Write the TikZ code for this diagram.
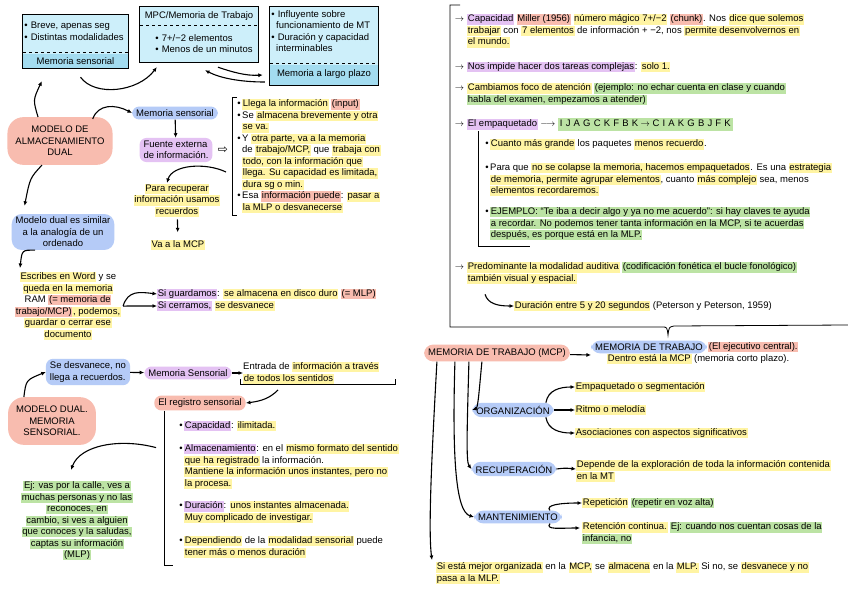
\documentclass[tikz,border=0pt]{standalone}
\usepackage{fontspec}
\setmainfont{Liberation Sans}
\newfontfamily\symfont{DejaVu Sans}
\usetikzlibrary{arrows.meta,calc}
\definecolor{boxc}{HTML}{CDEFFA}
\definecolor{bandc}{HTML}{A3DCF0}
\definecolor{hly}{HTML}{FFF4A3}
\definecolor{hlk}{HTML}{F8BCAF}
\definecolor{hlb}{HTML}{B5CBF7}
\definecolor{hlp}{HTML}{E4C2F3}
\definecolor{hlg}{HTML}{BCE3A4}
\newcommand\mapfont{\fontsize{9.5}{11.5}\selectfont\setlength{\lineskiplimit}{-10pt}}
\newcommand\mkc[2]{{\setlength{\fboxsep}{0.7pt}\colorbox{#1}{\vphantom{Ay}#2}}}
\newcommand\mkY[1]{\mkc{hly}{#1}}
\newcommand\mkK[1]{\mkc{hlk}{#1}}
\newcommand\mkP[1]{\mkc{hlp}{#1}}
\newcommand\mkG[1]{\mkc{hlg}{#1}}
\newcommand\bulx{\llap{\textbullet\,}}
\newcommand\itemarr{\llap{$\rightarrow$\,\,}}
\tikzset{
 txt/.style={align=left,anchor=north west,inner sep=0pt},
 blob/.style={rounded corners=7pt,inner xsep=4pt,inner ysep=3pt},
 cloudk/.style={fill=hlk,rounded corners=16pt,align=center,inner xsep=8pt,inner ysep=9pt},
 arr/.style={-{Latex[length=4.5pt,width=4pt]},line width=1.1pt},
 memline/.style={line width=1.3pt}
}
\begin{document}
\begin{tikzpicture}[x=1pt,y=-1pt,font=\mapfont]
 \fill[white] (0,0) rectangle (848,599);
 \useasboundingbox (0,0) rectangle (848,599);
 % three stores
 \node[fill=boxc,minimum width=105,minimum height=53,inner sep=0] (bsens) at (75.5,41.5) {};
 \fill[bandc] (23,54) rectangle (128,68);\draw[dashed,thick] (23,52)--(128,52);
 \draw[memline] (bsens.north west) rectangle (bsens.south east);
 \node[txt] (sensl) at (29,22) {\bulx\,Breve, apenas seg\\\bulx\,Distintas modalidades};
 \node (senst) at (75.5,61) {Memoria sensorial};
 \node[fill=boxc,minimum width=118,minimum height=55,inner sep=0] (bmcp) at (199,34.5) {};
 \draw[dashed,thick] (140,25)--(258,25);\draw[memline] (bmcp.north west) rectangle (bmcp.south east);
 \node (mcpt) at (199,16) {MPC/Memoria de Trabajo};
 \node[txt] (mcpl) at (160,34) {\bulx\,7+/−2 elementos\\\bulx\,Menos de un minutos};
 \node[fill=boxc,minimum width=108,minimum height=78,inner sep=0] (blp) at (324,46) {};
 \fill[bandc] (270,65) rectangle (378,85);\draw[dashed,thick] (270,63)--(378,63);
 \draw[memline] (blp.north west) rectangle (blp.south east);
 \node[txt] (lpl) at (276,10) {\bulx\,Influyente sobre\\funcionamiento de MT\\\bulx\,Duración y capacidad\\interminables};
 \node (lpt) at (324,74) {Memoria a largo plazo};
 \draw[arr] ($(bsens.south)+(5,9)$) .. controls (95,97) and (138,92) .. ($(bmcp.south west)+(17,5)$);
 \draw[arr] ($(bmcp.south)+(19,5)$) .. controls (232,72) and (246,76) .. ($(blp.west)+(-7,29)$);
 \draw[arr] ($(blp.west)+(-5,36)$) .. controls (240,82) and (220,78) .. ($(bmcp.south)+(6,8)$);
 % modelo de almacenamiento dual
 \node[cloudk] (dual) at (60,141) {MODELO DE\\ALMACENAMIENTO\\DUAL};
 \draw[arr] ($(dual.north)+(-22,0)$) .. controls (33,100) .. ($(bsens.south west)+(19,13)$);
 \node[blob,fill=hlb] (msens) at (175,113) {Memoria sensorial};
 \draw[arr] ($(dual.north east)+(-20,2)$) .. controls (98,104) and (115,104) .. (msens.west);
 \node[blob,fill=hlp,align=left] (fuente) at (176,150) {Fuente externa\\de información.};
 \draw[arr] (msens) -- (fuente);
 \node[inner sep=0] (dbl) at (223,150) {\symfont\large ⇨};
 \draw[thick] (237,97)--(232,97)--(232,215)--(237,215);
 \coordinate (brk) at (226,172);
 \node[txt] (llega) at (242,99) {\bulx\mkY{Llega la información} \mkK{(input)}\\\bulx Se \mkY{almacena brevemente y otra}\\\mkY{se va.}\\\bulx Y \mkY{otra parte, va a la memoria}\\de \mkY{trabajo/MCP,} que \mkY{trabaja con}\\\mkY{todo, con la información que}\\\mkY{llega. Su capacidad es limitada,}\\\mkY{dura sg o min.}\\\bulx Esa \mkK{información puede}: \mkY{pasar a}\\\mkY{la MLP o desvanecerse}};
 \node[txt,align=center,anchor=north] (recup) at (177,184) {\mkY{Para recuperar}\\\mkY{información usamos}\\\mkY{recuerdos}};
 \draw[arr] (brk) .. controls (205,162) and (172,165) .. ($(recup.north)+(-10,-1)$);
 \node (vamcp) at (178,245) {\mkY{Va a la MCP}};
 \draw[arr,shorten <=2pt,shorten >=4pt] (recup) -- (vamcp);
 \node[blob,fill=hlb,align=center,rounded corners=10pt] (analog) at (63,232) {Modelo dual es similar\\a la analogía de un\\ordenado};
 \draw[arr] ($(dual.south)+(-18,0)$) .. controls (30,178) .. ($(analog.north west)+(13,-8)$);
 \node[txt,align=center,anchor=north] (word) at (68,272) {\mkY{Escribes en Word} y se\\\mkY{queda en la memoria}\\RAM \mkK{(= memoria de}\\\mkK{trabajo/MCP)}\mkY{, podemos,}\\\mkY{guardar o cerrar ese}\\\mkY{documento}};
 \draw[arr] ($(analog.south)+(-28,0)$) .. controls (22,250) .. ($(word.north)+(-48,-4)$);
 \node[txt,anchor=west] (guard) at (157,294) {\mkP{Si guardamos}: \mkY{se almacena en disco duro} \mkK{(= MLP)}};
 \node[txt,anchor=west] (cerr) at (157,306) {\mkP{Si cerramos,} \mkY{se desvanece}};
 \draw[arr] ($(word.east)+(2,0)$) .. controls (128,290) and (140,292) .. (guard.west);
 \draw[arr] ($(word.east)+(2,0)$) .. controls (130,306) and (140,306) .. (cerr.west);
 % modelo dual memoria sensorial
 \node[cloudk] (dualsens) at (52,421) {MODELO DUAL.\\MEMORIA\\SENSORIAL.};
 \node[blob,fill=hlb,align=left] (desv) at (88,372) {Se desvanece, no\\llega a recuerdos.};
 \draw[arr] ($(dualsens.north west)+(16,0)$) .. controls (26,380) .. (desv.west);
 \node[blob,fill=hlp] (msens2) at (188,373) {Memoria Sensorial};
 \draw[arr] (desv) -- (msens2);
 \node[txt,anchor=west] (entrada) at (243,373) {Entrada de \mkY{información a través}\\\mkY{de todos los sentidos}};
 \draw[arr] (msens2) -- (entrada);
 \draw[thick] (240,379)--(240,384)--(395,384)--(395,379);
 \node[blob,fill=hlk] (regis) at (200,403) {El registro sensorial};
 \draw[arr] (278,390) .. controls (270,398) and (262,401) .. (regis.east);
 \draw[thick] ($(regis.south west)+(10,0)$) -- ++(0,155) -- ++(9,0);
 \node[txt] (capac) at (184,421) {\bulx\mkP{Capacidad}: \mkY{ilimitada.}};
 \node[txt] (almac) at (184,444) {\bulx\mkP{Almacenamiento}: en el \mkY{mismo formato del sentido}\\\mkY{que ha registrado} la información.\\\mkY{Mantiene la información unos instantes, pero no}\\\mkY{la procesa.}};
 \node[txt] (durac) at (184,501) {\bulx\mkP{Duración}: \mkY{unos instantes almacenada.}\\\mkY{Muy complicado de investigar.}};
 \node[txt] (depend) at (184,536) {\bulx\mkY{Dependiendo} de la \mkY{modalidad sensorial} puede\\\mkY{tener más o menos duración}};
 \node[txt,align=center,anchor=north] (ejcalle) at (77,481) {\mkG{Ej: vas por la calle, ves a}\\\mkG{muchas personas y no las}\\\mkG{reconoces, en}\\\mkG{cambio, si ves a alguien}\\\mkG{que conoces y la saludas,}\\\mkG{captas su información}\\\mkG{(MLP)}};
 \draw[arr] ($(regis.south west)+(2,37)$) .. controls (120,438) and (80,445) .. ($(ejcalle.north)+(-6,-11)$);
 % right side
 \draw[thick] (460,5)--(450,5)--(450,327)--(662,327) .. controls (667,327) .. (668,335) .. controls (669,327) .. (674,326)--(848,325);
 \node[txt] (capmil) at (467,14) {\itemarr\mkP{Capacidad} \mkK{Miller (1956)} \mkY{número mágico 7+/−2} \mkK{(chunk)}. Nos \mkY{dice que solemos}\\\mkY{trabajar} con \mkY{7 elementos} de información + −2, nos \mkY{permite desenvolvernos en}\\\mkY{el mundo.}};
 \node[txt] (impide) at (467,62) {\itemarr\mkP{Nos impide hacer dos tareas complejas}: \mkY{solo 1.}};
 \node[txt] (foco) at (467,83) {\itemarr\mkY{Cambiamos foco de atención} \mkG{(ejemplo: no echar cuenta en clase y cuando}\\\mkG{habla del examen, empezamos a atender)}};
 \node[txt] (empaq) at (467,118) {\itemarr\mkP{El empaquetado} $\longrightarrow$ {\setlength{\fboxsep}{2pt}\colorbox{hlg}{\vphantom{Ay}I\,\,J\,\,A\,\,G\,\,C\,\,K\,\,F\,\,B\,\,K $\rightarrow$ C\,\,I\,\,A\,\,K\,\,G\,\,B\,\,J\,\,F\,\,K}}};
 \draw[thick] (478,131)--(478,246)--(530,246);
 \node[txt] (cuanto) at (490,139) {\bulx\mkY{Cuanto más grande} los paquetes \mkY{menos recuerdo}.};
 \node[txt] (colap) at (490,163) {\bulx Para que \mkY{no se colapse la memoria, hacemos empaquetados}. Es una \mkY{estrategia}\\\mkY{de memoria, permite agrupar elementos}, cuanto \mkY{más complejo} sea, menos\\\mkY{elementos recordaremos.}};
 \node[txt] (ejemplo) at (490,207) {\bulx\mkG{EJEMPLO: “Te iba a decir algo y ya no me acuerdo”: si hay claves te ayuda}\\\mkG{a recordar. No podemos tener tanta información en la MCP, si te acuerdas}\\\mkG{después, es porque está en la MLP.}};
 \node[txt] (predom) at (467,262) {\itemarr\mkY{Predominante la modalidad auditiva} \mkG{(codificación fonética el bucle fonológico)}\\\mkY{también visual y espacial.}};
 \node[txt,anchor=west] (durmcp) at (514,306) {\mkY{Duración entre 5 y 20 segundos} (Peterson y Peterson, 1959)};
 \draw[arr] ($(predom.south west)+(18,10)$) .. controls (488,304) and (498,306) .. (durmcp.west);
 % memoria de trabajo
 \node[blob,fill=hlk,rounded corners=9pt,inner ysep=4pt] (mtmcp) at (497,353) {MEMORIA DE TRABAJO (MCP)};
 \node[blob,fill=hlb,rounded corners=9pt] (mtec) at (649,347) {MEMORIA DE TRABAJO};
 \node[txt,anchor=west] (ejec) at ([xshift=1pt]mtec.east) {\mkK{(El ejecutivo central).}};
 \node[txt,anchor=west] (dentro) at (607,359) {\mkY{Dentro está la MCP} (memoria corto plazo).};
 \draw[arr] (mtmcp) -- ($(mtec.west)+(0,8)$);
 \node[blob,fill=hlb,rounded corners=9pt] (org) at (513,410) {ORGANIZACIÓN};
 \node[txt,anchor=west] (seg) at (575,387) {\mkY{Empaquetado o segmentación}};
 \node[txt,anchor=west] (ritmo) at (575,410) {\mkY{Ritmo o melodía}};
 \node[txt,anchor=west] (asoc) at (575,433) {\mkY{Asociaciones con aspectos significativos}};
 \node[blob,fill=hlb,rounded corners=9pt] (recu) at (514,469) {RECUPERACIÓN};
 \node[txt] (depende) at (576,460) {\mkY{Depende de la exploración de toda la información contenida}\\\mkY{en la MT}};
 \node[blob,fill=hlb,rounded corners=9pt] (mant) at (518,517) {MANTENIMIENTO};
 \node[txt,anchor=west] (repet) at (582,503) {\mkY{Repetición} \mkG{(repetir en voz alta)}};
 \node[txt] (reten) at (582,522) {\mkY{Retención continua.} \mkG{Ej: cuando nos cuentan cosas de la}\\\mkG{infancia, no}};
 \node[txt] (siesta) at (436,562) {\mkY{Si está mejor organizada} en la \mkY{MCP,} se \mkY{almacena} en la \mkY{MLP.} Si no, se \mkY{desvanece y no}\\\mkY{pasa a la MLP.}};
 \draw[arr] ($(mtmcp.south west)+(58,0)$) .. controls (479,392) and (478,408) .. (org.west);
 \draw[arr] ($(mtmcp.south west)+(45,0)$) .. controls (467,430) and (466,462) .. (recu.west);
 \draw[arr] ($(mtmcp.south west)+(31,0)$) .. controls (452,460) and (456,512) .. (mant.west);
 \draw[arr] ($(mtmcp.south west)+(13,0)$) .. controls (432,450) and (428,530) .. ($(siesta.north west)+(-4,-2)$);
 \draw[arr] ($(org.north east)+(-8,0)$) .. controls (548,390) and (560,387) .. (seg.west);
 \draw[arr] (org.east) -- (ritmo.west);
 \draw[arr] ($(org.south east)+(-8,0)$) .. controls (548,430) and (560,433) .. (asoc.west);
 \draw[arr] (recu.east) .. controls (565,468) .. (depende.west |- recu.east);
 \draw[arr] ($(mant.north east)+(-12,0)$) .. controls (545,505) and (560,503) .. (repet.west);
 \draw[arr] ($(mant.south east)+(-12,0)$) .. controls (545,530) and (560,528) .. ($(reten.north west)+(-2,6)$);
\end{tikzpicture}
\end{document}
